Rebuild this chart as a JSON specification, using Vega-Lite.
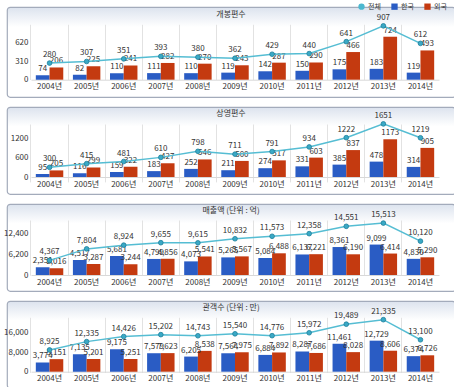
{
  "$schema": "https://vega.github.io/schema/vega-lite/v6.json",
  "padding": {"left": 2, "top": 3, "right": 0, "bottom": 0},
  "background": "white",
  "spacing": 8,
  "config": {
    "font": "Noto Sans CJK KR",
    "view": {"stroke": "#a3abbb", "strokeWidth": 1.2, "cornerRadius": 3, "fill": {"gradient": "linear", "x1": 0, "y1": 0, "x2": 0, "y2": 1, "stops": [{"offset": 0, "color": "#dce3ee"}, {"offset": 0.22, "color": "#ffffff"}, {"offset": 1, "color": "#ffffff"}]}},
    "title": {"fontSize": 8, "fontWeight": "normal", "color": "#333333", "offset": -11, "anchor": "middle"},
    "axisX": {"title": null, "labelAngle": 0, "labelFontSize": 8, "labelColor": "#333333", "ticks": false, "domain": true, "domainColor": "#d8d8d8", "grid": true, "gridColor": "#e2e2e2", "bandPosition": -0.176, "labelPadding": 3},
    "axisY": {"title": null, "labelFontSize": 8, "labelColor": "#333333", "ticks": false, "domain": false, "grid": false, "offset": -24, "labelPadding": 3},
    "text": {"fontSize": 8, "color": "#333333"}
  },
  "datasets": {
    "d": [
      {"m": "개봉편수", "year": "2004년", "s": "한국", "v": 74}, {"m": "개봉편수", "year": "2004년", "s": "외국", "v": 206}, {"m": "개봉편수", "year": "2004년", "s": "전체", "v": 280},
      {"m": "개봉편수", "year": "2005년", "s": "한국", "v": 82}, {"m": "개봉편수", "year": "2005년", "s": "외국", "v": 225}, {"m": "개봉편수", "year": "2005년", "s": "전체", "v": 307},
      {"m": "개봉편수", "year": "2006년", "s": "한국", "v": 110}, {"m": "개봉편수", "year": "2006년", "s": "외국", "v": 241}, {"m": "개봉편수", "year": "2006년", "s": "전체", "v": 351},
      {"m": "개봉편수", "year": "2007년", "s": "한국", "v": 111}, {"m": "개봉편수", "year": "2007년", "s": "외국", "v": 282}, {"m": "개봉편수", "year": "2007년", "s": "전체", "v": 393},
      {"m": "개봉편수", "year": "2008년", "s": "한국", "v": 110}, {"m": "개봉편수", "year": "2008년", "s": "외국", "v": 270}, {"m": "개봉편수", "year": "2008년", "s": "전체", "v": 380},
      {"m": "개봉편수", "year": "2009년", "s": "한국", "v": 119}, {"m": "개봉편수", "year": "2009년", "s": "외국", "v": 243}, {"m": "개봉편수", "year": "2009년", "s": "전체", "v": 362},
      {"m": "개봉편수", "year": "2010년", "s": "한국", "v": 142}, {"m": "개봉편수", "year": "2010년", "s": "외국", "v": 287}, {"m": "개봉편수", "year": "2010년", "s": "전체", "v": 429},
      {"m": "개봉편수", "year": "2011년", "s": "한국", "v": 150}, {"m": "개봉편수", "year": "2011년", "s": "외국", "v": 290}, {"m": "개봉편수", "year": "2011년", "s": "전체", "v": 440},
      {"m": "개봉편수", "year": "2012년", "s": "한국", "v": 175}, {"m": "개봉편수", "year": "2012년", "s": "외국", "v": 466}, {"m": "개봉편수", "year": "2012년", "s": "전체", "v": 641},
      {"m": "개봉편수", "year": "2013년", "s": "한국", "v": 183}, {"m": "개봉편수", "year": "2013년", "s": "외국", "v": 724}, {"m": "개봉편수", "year": "2013년", "s": "전체", "v": 907},
      {"m": "개봉편수", "year": "2014년", "s": "한국", "v": 119}, {"m": "개봉편수", "year": "2014년", "s": "외국", "v": 493}, {"m": "개봉편수", "year": "2014년", "s": "전체", "v": 612},

      {"m": "상영편수", "year": "2004년", "s": "한국", "v": 95}, {"m": "상영편수", "year": "2004년", "s": "외국", "v": 205}, {"m": "상영편수", "year": "2004년", "s": "전체", "v": 300},
      {"m": "상영편수", "year": "2005년", "s": "한국", "v": 116}, {"m": "상영편수", "year": "2005년", "s": "외국", "v": 299}, {"m": "상영편수", "year": "2005년", "s": "전체", "v": 415},
      {"m": "상영편수", "year": "2006년", "s": "한국", "v": 159}, {"m": "상영편수", "year": "2006년", "s": "외국", "v": 322}, {"m": "상영편수", "year": "2006년", "s": "전체", "v": 481},
      {"m": "상영편수", "year": "2007년", "s": "한국", "v": 183}, {"m": "상영편수", "year": "2007년", "s": "외국", "v": 427}, {"m": "상영편수", "year": "2007년", "s": "전체", "v": 610},
      {"m": "상영편수", "year": "2008년", "s": "한국", "v": 252}, {"m": "상영편수", "year": "2008년", "s": "외국", "v": 546}, {"m": "상영편수", "year": "2008년", "s": "전체", "v": 798},
      {"m": "상영편수", "year": "2009년", "s": "한국", "v": 211}, {"m": "상영편수", "year": "2009년", "s": "외국", "v": 500}, {"m": "상영편수", "year": "2009년", "s": "전체", "v": 711},
      {"m": "상영편수", "year": "2010년", "s": "한국", "v": 274}, {"m": "상영편수", "year": "2010년", "s": "외국", "v": 517}, {"m": "상영편수", "year": "2010년", "s": "전체", "v": 791},
      {"m": "상영편수", "year": "2011년", "s": "한국", "v": 331}, {"m": "상영편수", "year": "2011년", "s": "외국", "v": 603}, {"m": "상영편수", "year": "2011년", "s": "전체", "v": 934},
      {"m": "상영편수", "year": "2012년", "s": "한국", "v": 385}, {"m": "상영편수", "year": "2012년", "s": "외국", "v": 837}, {"m": "상영편수", "year": "2012년", "s": "전체", "v": 1222},
      {"m": "상영편수", "year": "2013년", "s": "한국", "v": 478}, {"m": "상영편수", "year": "2013년", "s": "외국", "v": 1173}, {"m": "상영편수", "year": "2013년", "s": "전체", "v": 1651},
      {"m": "상영편수", "year": "2014년", "s": "한국", "v": 314}, {"m": "상영편수", "year": "2014년", "s": "외국", "v": 905}, {"m": "상영편수", "year": "2014년", "s": "전체", "v": 1219},

      {"m": "매출액", "year": "2004년", "s": "한국", "v": 2351}, {"m": "매출액", "year": "2004년", "s": "외국", "v": 2016}, {"m": "매출액", "year": "2004년", "s": "전체", "v": 4367},
      {"m": "매출액", "year": "2005년", "s": "한국", "v": 4517}, {"m": "매출액", "year": "2005년", "s": "외국", "v": 3287}, {"m": "매출액", "year": "2005년", "s": "전체", "v": 7804},
      {"m": "매출액", "year": "2006년", "s": "한국", "v": 5681}, {"m": "매출액", "year": "2006년", "s": "외국", "v": 3244}, {"m": "매출액", "year": "2006년", "s": "전체", "v": 8924},
      {"m": "매출액", "year": "2007년", "s": "한국", "v": 4799}, {"m": "매출액", "year": "2007년", "s": "외국", "v": 4856}, {"m": "매출액", "year": "2007년", "s": "전체", "v": 9655},
      {"m": "매출액", "year": "2008년", "s": "한국", "v": 4073}, {"m": "매출액", "year": "2008년", "s": "외국", "v": 5541}, {"m": "매출액", "year": "2008년", "s": "전체", "v": 9615},
      {"m": "매출액", "year": "2009년", "s": "한국", "v": 5265}, {"m": "매출액", "year": "2009년", "s": "외국", "v": 5567}, {"m": "매출액", "year": "2009년", "s": "전체", "v": 10832},
      {"m": "매출액", "year": "2010년", "s": "한국", "v": 5084}, {"m": "매출액", "year": "2010년", "s": "외국", "v": 6488}, {"m": "매출액", "year": "2010년", "s": "전체", "v": 11573},
      {"m": "매출액", "year": "2011년", "s": "한국", "v": 6137}, {"m": "매출액", "year": "2011년", "s": "외국", "v": 6221}, {"m": "매출액", "year": "2011년", "s": "전체", "v": 12358},
      {"m": "매출액", "year": "2012년", "s": "한국", "v": 8361}, {"m": "매출액", "year": "2012년", "s": "외국", "v": 6190}, {"m": "매출액", "year": "2012년", "s": "전체", "v": 14551},
      {"m": "매출액", "year": "2013년", "s": "한국", "v": 9099}, {"m": "매출액", "year": "2013년", "s": "외국", "v": 6414}, {"m": "매출액", "year": "2013년", "s": "전체", "v": 15513},
      {"m": "매출액", "year": "2014년", "s": "한국", "v": 4830}, {"m": "매출액", "year": "2014년", "s": "외국", "v": 5290}, {"m": "매출액", "year": "2014년", "s": "전체", "v": 10120},

      {"m": "관객수", "year": "2004년", "s": "한국", "v": 3774}, {"m": "관객수", "year": "2004년", "s": "외국", "v": 5151}, {"m": "관객수", "year": "2004년", "s": "전체", "v": 8925},
      {"m": "관객수", "year": "2005년", "s": "한국", "v": 7135}, {"m": "관객수", "year": "2005년", "s": "외국", "v": 5201}, {"m": "관객수", "year": "2005년", "s": "전체", "v": 12335},
      {"m": "관객수", "year": "2006년", "s": "한국", "v": 9175}, {"m": "관객수", "year": "2006년", "s": "외국", "v": 5251}, {"m": "관객수", "year": "2006년", "s": "전체", "v": 14426},
      {"m": "관객수", "year": "2007년", "s": "한국", "v": 7579}, {"m": "관객수", "year": "2007년", "s": "외국", "v": 7623}, {"m": "관객수", "year": "2007년", "s": "전체", "v": 15202},
      {"m": "관객수", "year": "2008년", "s": "한국", "v": 6205}, {"m": "관객수", "year": "2008년", "s": "외국", "v": 8538}, {"m": "관객수", "year": "2008년", "s": "전체", "v": 14743},
      {"m": "관객수", "year": "2009년", "s": "한국", "v": 7564}, {"m": "관객수", "year": "2009년", "s": "외국", "v": 7975}, {"m": "관객수", "year": "2009년", "s": "전체", "v": 15540},
      {"m": "관객수", "year": "2010년", "s": "한국", "v": 6884}, {"m": "관객수", "year": "2010년", "s": "외국", "v": 7892}, {"m": "관객수", "year": "2010년", "s": "전체", "v": 14776},
      {"m": "관객수", "year": "2011년", "s": "한국", "v": 8287}, {"m": "관객수", "year": "2011년", "s": "외국", "v": 7686}, {"m": "관객수", "year": "2011년", "s": "전체", "v": 15972},
      {"m": "관객수", "year": "2012년", "s": "한국", "v": 11461}, {"m": "관객수", "year": "2012년", "s": "외국", "v": 8028}, {"m": "관객수", "year": "2012년", "s": "전체", "v": 19489},
      {"m": "관객수", "year": "2013년", "s": "한국", "v": 12729}, {"m": "관객수", "year": "2013년", "s": "외국", "v": 8606}, {"m": "관객수", "year": "2013년", "s": "전체", "v": 21335},
      {"m": "관객수", "year": "2014년", "s": "한국", "v": 6374}, {"m": "관객수", "year": "2014년", "s": "외국", "v": 6726}, {"m": "관객수", "year": "2014년", "s": "전체", "v": 13100}
    ]
  },
  "vconcat": [
    {
      "width": 448, "height": 90,
      "title": {"text": "개봉편수", "offset": -12},
      "data": {"name": "d"},
      "transform": [{"filter": "datum.m === '개봉편수'"}],
      "encoding": {
        "x": {"field": "year", "type": "ordinal", "scale": {"range": [24, 432], "paddingInner": 0.26, "paddingOuter": 0.13}, "axis": {"offset": -17.3}},
        "y": {"field": "v", "type": "quantitative", "scale": {"domain": [0, 930], "range": [72.7, 17.5], "nice": false, "zero": true}, "axis": {"values": [0, 310, 620], "format": "d"}}
      },
      "layer": [
        {"transform": [{"filter": "datum.s !== '전체'"}], "mark": {"type": "bar"},
         "encoding": {"xOffset": {"field": "s", "scale": {"domain": ["한국", "외국"]}},
           "color": {"field": "s", "type": "nominal", "scale": {"domain": ["전체", "한국", "외국"], "range": ["#4cb8d0", "#2a5cc4", "#c43a10"]},
             "legend": {"title": null, "orient": "none", "direction": "horizontal", "legendX": 351, "legendY": -4, "padding": 0, "labelFontSize": 7, "labelColor": "#333333", "symbolSize": 40, "columnPadding": 10, "labelOffset": 3, "symbolStrokeWidth": 0,
               "encode": {"symbols": {"update": {"shape": {"signal": "datum.value === '전체' ? 'circle' : 'square'"}}}}}}}},
        {"transform": [{"filter": "datum.s !== '전체'"}], "mark": {"type": "text", "dy": -6},
         "encoding": {"xOffset": {"field": "s", "scale": {"domain": ["한국", "외국"]}}, "text": {"field": "v", "type": "quantitative", "format": "d"}}},
        {"transform": [{"filter": "datum.s === '전체'"}], "mark": {"type": "line", "color": "#55bdd3", "strokeWidth": 1.5}, "encoding": {}},
        {"transform": [{"filter": "datum.s === '전체'"}], "mark": {"type": "point", "filled": true, "fill": "#3aa9c6", "stroke": "#1d7f9a", "strokeWidth": 0.8, "size": 22, "opacity": 1}, "encoding": {}},
        {"transform": [{"filter": "datum.s === '전체'"}], "mark": {"type": "text", "dy": -8}, "encoding": {"text": {"field": "v", "type": "quantitative", "format": "d"}}}
      ]
    },
    {
      "width": 448, "height": 87,
      "title": {"text": "상영편수"},
      "data": {"name": "d"},
      "transform": [{"filter": "datum.m === '상영편수'"}],
      "encoding": {
        "x": {"field": "year", "type": "ordinal", "scale": {"range": [24, 432], "paddingInner": 0.26, "paddingOuter": 0.13}, "axis": {"offset": -17}},
        "y": {"field": "v", "type": "quantitative", "scale": {"domain": [0, 1800], "range": [70, 12.1], "nice": false, "zero": true}, "axis": {"values": [0, 600, 1200], "format": "d"}}
      },
      "layer": [
        {"transform": [{"filter": "datum.s !== '전체'"}], "mark": {"type": "bar"},
         "encoding": {"xOffset": {"field": "s", "scale": {"domain": ["한국", "외국"]}}, "color": {"field": "s", "type": "nominal"}}},
        {"transform": [{"filter": "datum.s !== '전체'"}], "mark": {"type": "text", "dy": -6},
         "encoding": {"xOffset": {"field": "s", "scale": {"domain": ["한국", "외국"]}}, "text": {"field": "v", "type": "quantitative", "format": "d"}}},
        {"transform": [{"filter": "datum.s === '전체'"}], "mark": {"type": "line", "color": "#55bdd3", "strokeWidth": 1.5}, "encoding": {}},
        {"transform": [{"filter": "datum.s === '전체'"}], "mark": {"type": "point", "filled": true, "fill": "#3aa9c6", "stroke": "#1d7f9a", "strokeWidth": 0.8, "size": 22, "opacity": 1}, "encoding": {}},
        {"transform": [{"filter": "datum.s === '전체'"}], "mark": {"type": "text", "dy": -8}, "encoding": {"text": {"field": "v", "type": "quantitative", "format": "d"}}}
      ]
    },
    {
      "width": 448, "height": 87,
      "title": {"text": "매출액 (단위 : 억)"},
      "data": {"name": "d"},
      "transform": [{"filter": "datum.m === '매출액'"}],
      "encoding": {
        "x": {"field": "year", "type": "ordinal", "scale": {"range": [24, 432], "paddingInner": 0.26, "paddingOuter": 0.13}, "axis": {"offset": -16}},
        "y": {"field": "v", "type": "quantitative", "scale": {"domain": [0, 16500], "range": [71, 15.8], "nice": false, "zero": true}, "axis": {"values": [0, 6200, 12400], "format": ",d"}}
      },
      "layer": [
        {"transform": [{"filter": "datum.s !== '전체'"}], "mark": {"type": "bar"},
         "encoding": {"xOffset": {"field": "s", "scale": {"domain": ["한국", "외국"]}}, "color": {"field": "s", "type": "nominal"}}},
        {"transform": [{"filter": "datum.s !== '전체'"}], "mark": {"type": "text", "dy": -6},
         "encoding": {"xOffset": {"field": "s", "scale": {"domain": ["한국", "외국"]}}, "text": {"field": "v", "type": "quantitative", "format": ",d"}}},
        {"transform": [{"filter": "datum.s === '전체'"}], "mark": {"type": "line", "color": "#55bdd3", "strokeWidth": 1.5}, "encoding": {}},
        {"transform": [{"filter": "datum.s === '전체'"}], "mark": {"type": "point", "filled": true, "fill": "#3aa9c6", "stroke": "#1d7f9a", "strokeWidth": 0.8, "size": 22, "opacity": 1}, "encoding": {}},
        {"transform": [{"filter": "datum.s === '전체'"}], "mark": {"type": "text", "dy": -8}, "encoding": {"text": {"field": "v", "type": "quantitative", "format": ",d"}}}
      ]
    },
    {
      "width": 448, "height": 87,
      "title": {"text": "관객수 (단위 : 만)"},
      "data": {"name": "d"},
      "transform": [{"filter": "datum.m === '관객수'"}],
      "encoding": {
        "x": {"field": "year", "type": "ordinal", "scale": {"range": [24, 432], "paddingInner": 0.26, "paddingOuter": 0.13}, "axis": {"offset": -16.3}},
        "y": {"field": "v", "type": "quantitative", "scale": {"domain": [0, 22600], "range": [70.7, 15.6], "nice": false, "zero": true}, "axis": {"values": [0, 8000, 16000], "format": ",d"}}
      },
      "layer": [
        {"transform": [{"filter": "datum.s !== '전체'"}], "mark": {"type": "bar"},
         "encoding": {"xOffset": {"field": "s", "scale": {"domain": ["한국", "외국"]}}, "color": {"field": "s", "type": "nominal"}}},
        {"transform": [{"filter": "datum.s !== '전체'"}], "mark": {"type": "text", "dy": -6},
         "encoding": {"xOffset": {"field": "s", "scale": {"domain": ["한국", "외국"]}}, "text": {"field": "v", "type": "quantitative", "format": ",d"}}},
        {"transform": [{"filter": "datum.s === '전체'"}], "mark": {"type": "line", "color": "#55bdd3", "strokeWidth": 1.5}, "encoding": {}},
        {"transform": [{"filter": "datum.s === '전체'"}], "mark": {"type": "point", "filled": true, "fill": "#3aa9c6", "stroke": "#1d7f9a", "strokeWidth": 0.8, "size": 22, "opacity": 1}, "encoding": {}},
        {"transform": [{"filter": "datum.s === '전체'"}], "mark": {"type": "text", "dy": -8}, "encoding": {"text": {"field": "v", "type": "quantitative", "format": ",d"}}}
      ]
    }
  ]
}
